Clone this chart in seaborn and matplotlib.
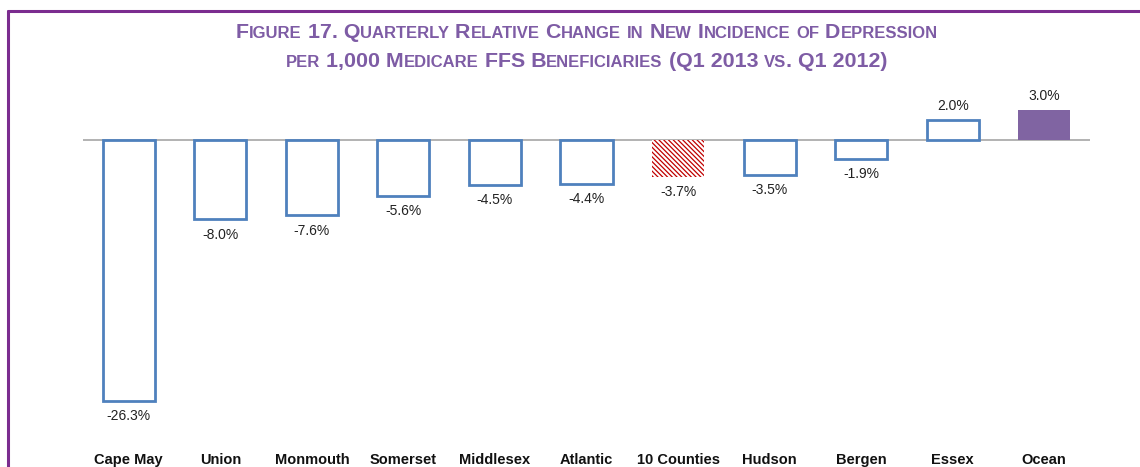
import matplotlib
matplotlib.use("Agg")
import matplotlib.pyplot as plt
import seaborn as sns
import pandas as pd
from matplotlib.lines import Line2D

counties = ["Cape May", "Union", "Monmouth", "Somerset", "Middlesex", "Atlantic",
            "10 Counties", "Hudson", "Bergen", "Essex", "Ocean"]
changes = [-26.3, -8.0, -7.6, -5.6, -4.5, -4.4, -3.7, -3.5, -1.9, 2.0, 3.0]
title_lines = ["Figure 17. Quarterly Relative Change in New Incidence of Depression",
               "per 1,000 Medicare FFS Beneficiaries (Q1 2013 vs. Q1 2012)"]

sns.set_theme(style="white")
plt.rcParams['font.family'] = ['Liberation Sans', 'DejaVu Sans']
plt.rcParams['hatch.linewidth'] = 0.9

BLUE = "#4F81BD"
PURPLE = "#8064A2"
TITLE_C = "#7E5CA5"
BORDER = "#7B2C8F"

df = pd.DataFrame({"county": counties, "change": changes})

fig = plt.figure(figsize=(11.4, 4.67), dpi=100)
ax = fig.add_axes([83/1140, (467-437.6)/467, (1090-83)/1140, 357.1/467])
sns.barplot(data=df, x="county", y="change", ax=ax, order=counties, width=0.57,
            color="white")
for i, p in enumerate(ax.patches):
    name = counties[i]
    if name == "Ocean":
        p.set_facecolor(PURPLE); p.set_edgecolor(PURPLE); p.set_linewidth(0)
    elif name == "10 Counties":
        p.set_facecolor("white"); p.set_edgecolor("#C00000"); p.set_linewidth(0)
        p.set_hatch("\\\\\\\\\\\\\\")
    else:
        p.set_facecolor("white"); p.set_edgecolor(BLUE); p.set_linewidth(2.0)
    v = changes[i]
    cx = p.get_x() + p.get_width()/2
    ax.annotate(f"{v:.1f}%", (cx, v), xytext=(0, 5 if v > 0 else -6),
                textcoords="offset points", ha="center",
                va="bottom" if v > 0 else "top", fontsize=10, color="#222222")

ax.axhline(0, color="#A6A6A6", lw=1.2, zorder=0.5)
ax.set_xlim(-0.5, len(counties)-0.5)
ax.set_ylim(-30, 6)
ax.set_yticks([])
ax.set_xlabel(""); ax.set_ylabel("")
ax.tick_params(axis="x", length=0, pad=11)
for lbl in ax.get_xticklabels():
    lbl.set_fontweight("bold"); lbl.set_fontsize(10.5); lbl.set_color("#111111")
for s in ax.spines.values():
    s.set_visible(False)

# border (top and left)
fig.add_artist(Line2D([7.5/1140, 7.5/1140], [0, (467-10.5)/467], transform=fig.transFigure,
                      color=BORDER, lw=2.2))
fig.add_artist(Line2D([7.5/1140, 1], [(467-10.5)/467, (467-10.5)/467], transform=fig.transFigure,
                      color=BORDER, lw=2.2))

# small-caps title
def runs(s):
    out = []
    for ch in s:
        small = ch.isalpha() and ch.islower()
        if out and out[-1][1] == small:
            out[-1][0] += ch.upper() if small else ch
        else:
            out.append([ch.upper() if small else ch, small])
    return out

fig.canvas.draw()
renderer = fig.canvas.get_renderer()
for line, ypix in zip(title_lines, [31, 60]):
    arts = []
    for txt, small in runs(line):
        t = fig.text(0, 1 - (ypix + 7) / 467, txt, fontsize=12 if small else 15.4,
                     fontweight="bold", color=TITLE_C,
                     va="baseline", ha="left")
        arts.append(t)
    widths = [a.get_window_extent(renderer).width for a in arts]
    total = sum(widths)
    x = 587 - total / 2
    for a, w in zip(arts, widths):
        a.set_x(x / 1140)
        x += w

fig.savefig("out.png", dpi=100)
